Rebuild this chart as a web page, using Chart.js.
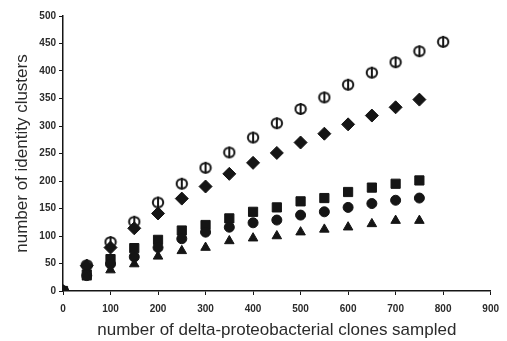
<!DOCTYPE html>
<html>
<head>
<meta charset="utf-8">
<script src="https://cdn.jsdelivr.net/npm/chart.js@4/dist/chart.umd.min.js"></script>
<style>
  html, body { margin: 0; padding: 0; background: #fff; }
  #wrap { width: 507px; height: 341px; }
</style>
</head>
<body>
<div id="wrap"><canvas id="c" width="507" height="341"></canvas></div>
<script>
// clones sampled (x) and identity clusters per series (y)
const clones = [0, 50, 100, 150, 200, 250, 300, 350, 400, 450, 500, 550, 600, 650, 700, 750];
const clonesOpen = [0, 50, 100, 150, 200, 250, 300, 350, 400, 450, 500, 550, 600, 650, 700, 750, 800];

const openCircles = [0, 47, 89, 126, 161, 195, 224, 252, 279, 305, 331, 352, 375, 397, 416, 436, 453];
const diamonds   = [0, 46, 79, 114, 141, 168, 190, 213, 233, 251, 270, 286, 303, 319, 334, 348];
const squares    = [0, 30, 58, 78, 93, 110, 120, 132, 144, 152, 163, 169, 180, 188, 195, 201];
const circles    = [0, 28, 49, 62, 79, 95, 107, 116, 124, 129, 138, 144, 152, 159, 165, 169];
const triangles  = [0, 25, 38, 49, 63, 73, 79, 91, 96, 100, 107, 112, 116, 122, 128, 128];

const xTicks = [0, 100, 200, 300, 400, 500, 600, 700, 800, 900];
const yTicks = [0, 50, 100, 150, 200, 250, 300, 350, 400, 450, 500];

const ink = '#151515';
const textInk = '#2b2b2b';

// open marker: ring with a vertical bar through it
function openMarker() {
    const cv = document.createElement('canvas');
    cv.width = 14; cv.height = 14;
    const g = cv.getContext('2d');
    g.strokeStyle = ink;
    g.lineWidth = 2;
    g.beginPath();
    g.ellipse(7, 7, 5.2, 4.8, 0, 0, Math.PI * 2);
    g.stroke();
    g.beginPath();
    g.moveTo(7, 1); g.lineTo(7, 13);
    g.stroke();
    return cv;
}

function pts(xs, ys) {
    return ys.map((y, i) => ({ x: xs[i], y: y }));
}

function series(label, xs, ys, style, radius) {
    return {
        label: label,
        data: pts(xs, ys),
        pointStyle: style,
        pointRadius: radius,
        backgroundColor: ink,
        borderColor: ink,
        borderWidth: 1,
        showLine: false
    };
}

const ctx = document.getElementById('c').getContext('2d');
new Chart(ctx, {
    type: 'scatter',
    data: {
        datasets: [
            series('triangles', clones, triangles, 'triangle', 5.5),
            series('circles', clones, circles, 'circle', 5),
            series('squares', clones, squares, 'rect', 6.5),
            series('diamonds', clones, diamonds, 'rectRot', 6.5),
            series('open', clonesOpen, openCircles, openMarker(), 7)
        ]
    },
    options: {
        responsive: false,
        animation: false,
        layout: { autoPadding: false, padding: { left: 0, right: 8, top: 16, bottom: 0 } },
        plugins: { legend: { display: false }, tooltip: { enabled: false } },
        scales: {
            x: {
                type: 'linear',
                min: 0, max: 900,
                afterBuildTicks: (axis) => { axis.ticks = xTicks.map(v => ({ value: v })); },
                afterFit: (axis) => { axis.height = 50; },
                border: { color: ink, width: 1.5 },
                grid: { drawOnChartArea: false, drawTicks: true, tickLength: 4, color: ink },
                ticks: { color: textInk, font: { family: 'Liberation Sans', size: 10, weight: 'bold' }, padding: 8, maxRotation: 0 },
                title: {
                    display: true,
                    text: 'number of delta-proteobacterial clones sampled',
                    color: textInk,
                    font: { family: 'Liberation Sans', size: 17 },
                    padding: { top: 2, bottom: 0 }
                }
            },
            y: {
                min: 0, max: 500,
                afterBuildTicks: (axis) => { axis.ticks = yTicks.map(v => ({ value: v })); },
                afterFit: (axis) => { axis.width = 63; },
                border: { color: ink, width: 1.5 },
                grid: { drawOnChartArea: false, drawTicks: true, tickLength: 4, color: ink },
                ticks: { color: textInk, font: { family: 'Liberation Sans', size: 10, weight: 'bold' }, padding: 3 },
                title: {
                    display: true,
                    text: 'number of identity clusters',
                    color: textInk,
                    font: { family: 'Liberation Sans', size: 17 },
                    padding: { top: 12, bottom: 4 }
                }
            }
        }
    }
});
</script>
</body>
</html>
